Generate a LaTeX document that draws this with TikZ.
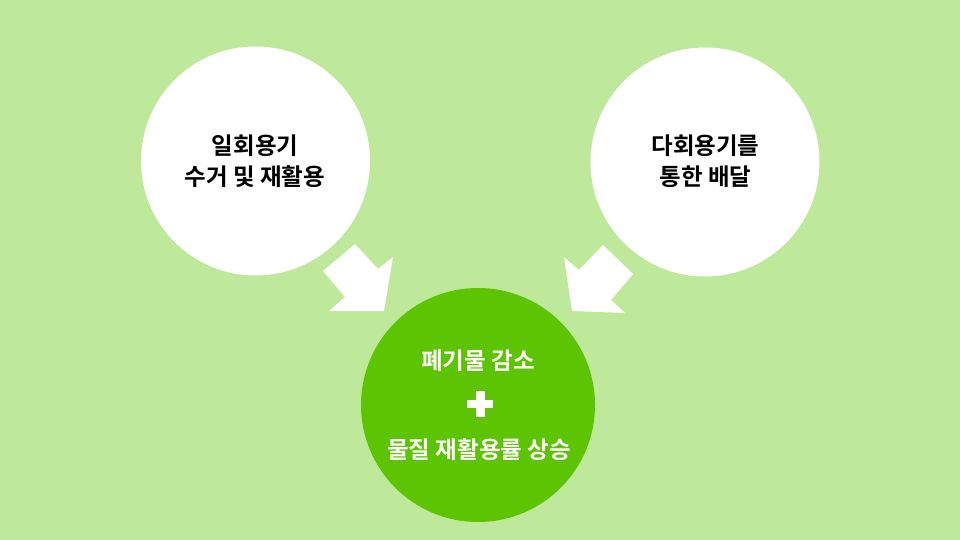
\documentclass[tikz,border=0pt]{standalone}
\usepackage{fontspec}
\newfontfamily\krfont{Noto Sans CJK KR}[BoldFont={Noto Sans CJK KR Bold}]
\definecolor{bglight}{RGB}{190,232,154}
\definecolor{leafgreen}{RGB}{92,196,0}
\begin{document}
\begin{tikzpicture}[x=1pt,y=-1pt,
  whitecircle/.style={circle,fill=white,minimum size=229pt,inner sep=0pt},
  greencircle/.style={circle,fill=leafgreen,minimum size=234pt,inner sep=0pt},
  label/.style={font=\krfont\bfseries\fontsize{23.5}{31}\selectfont,align=center,inner sep=0pt},
  blockarrow/.style={fill=white}]
\fill[bglight] (0,0) rectangle (960,540);
\useasboundingbox (0,0) rectangle (960,540);
% arrows
\fill[blockarrow] (355,244) -- (378,269) -- (393,257) -- (384,311) -- (329,311) -- (345,297) -- (323,271) -- cycle;
\fill[blockarrow] (603,245) -- (633,274) -- (611,300) -- (625,313) -- (572,311) -- (564,257) -- (579,270) -- cycle;
% circles
\node[whitecircle] (left) at (255.5,161) {};
\node[whitecircle] (right) at (705,162) {};
\node[greencircle] (result) at (478,405) {};
\node[label,text=black] (lefttext) at (255,161.5) {일회용기\\수거 및 재활용};
\node[label,text=black] (righttext) at (705.5,161.5) {다회용기를\\통한 배달};
\node[label,text=white] (top) at (478,361) {폐기물 감소};
\node[label,text=white] (bottom) at (479,450) {물질 재활용률 상승};
% plus sign
\fill[white] (467,400) rectangle (493,408);
\fill[white] (476,391) rectangle (485,417);
\end{tikzpicture}
\end{document}
